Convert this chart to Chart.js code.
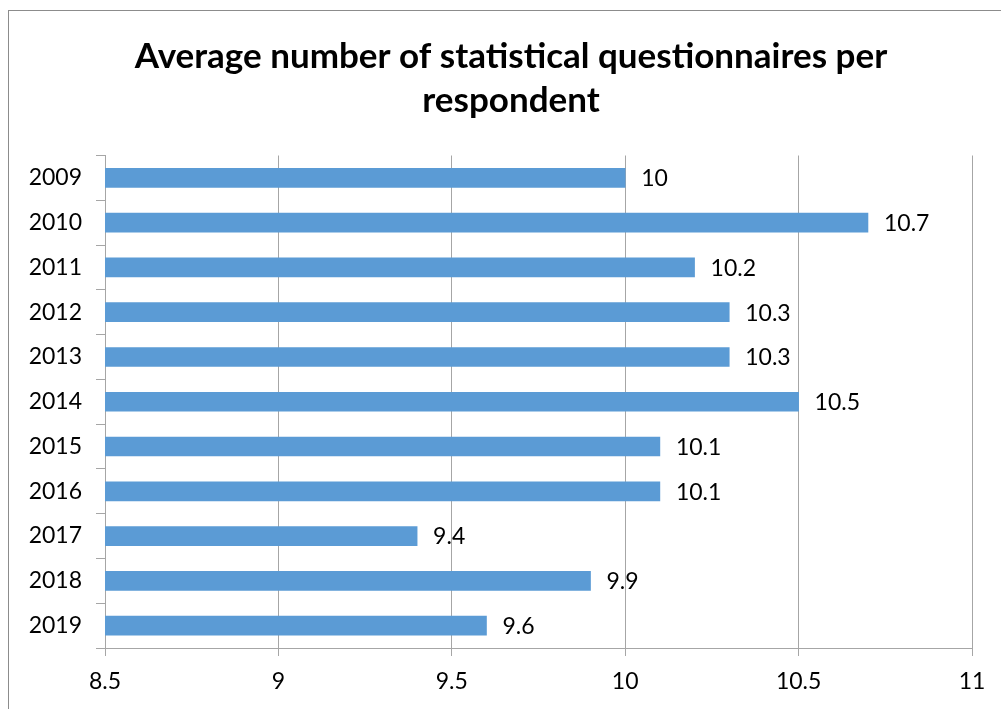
<!DOCTYPE html>
<html>
<head>
<meta charset="utf-8">
<script src="https://cdn.jsdelivr.net/npm/chart.js@4"></script>
<style>
  html, body { margin: 0; padding: 0; background: #fff; overflow: hidden; }
  #wrap { position: relative; width: 1001px; height: 709px; }
  #frame {
    position: absolute; left: 8px; top: 10px; width: 1100px; height: 800px;
    border: 1px solid #8c8c8c; box-sizing: border-box;
  }
  canvas { position: absolute; left: 0; top: 0; }
</style>
</head>
<body>
<div id="wrap">
  <div id="frame"></div>
  <canvas id="chart" width="1001" height="709"></canvas>
</div>
<script>
const years = ["2009", "2010", "2011", "2012", "2013", "2014", "2015", "2016", "2017", "2018", "2019"];
const questionnaires = [10, 10.7, 10.2, 10.3, 10.3, 10.5, 10.1, 10.1, 9.4, 9.9, 9.6];
const titleLines = ["Average number of statistical questionnaires per", "respondent"];
const axisMin = 8.5;
const axisMax = 11;
const axisStep = 0.5;

const FONT = "Lato, 'Open Sans', sans-serif";
const TITLE_SIZE = 35;
const TITLE_LINE = 1.25;

// value labels to the right of each bar
const valueLabels = {
  id: "valueLabels",
  afterDatasetsDraw(chart) {
    const ctx = chart.ctx;
    const meta = chart.getDatasetMeta(0);
    ctx.save();
    ctx.font = "23px " + FONT;
    ctx.fillStyle = "#000";
    ctx.textAlign = "left";
    ctx.textBaseline = "middle";
    meta.data.forEach((bar, i) => {
      ctx.fillText(String(questionnaires[i]), bar.x + 16, bar.y + 1);
    });
    ctx.restore();
  },
};

// the built-in title only reserves the space; text is centred on the frame here
const frameTitle = {
  id: "frameTitle",
  afterDraw(chart) {
    const ctx = chart.ctx;
    const block = chart.titleBlock;
    const lh = TITLE_SIZE * TITLE_LINE;
    ctx.save();
    ctx.font = "bold " + TITLE_SIZE + "px " + FONT;
    ctx.fillStyle = "#000";
    ctx.textAlign = "center";
    ctx.textBaseline = "middle";
    titleLines.forEach((line, i) => {
      ctx.fillText(line, 511, block.top + 35 + lh * (i + 0.5));
    });
    ctx.restore();
  },
};

new Chart(document.getElementById("chart"), {
  type: "bar",
  data: {
    labels: years,
    datasets: [
      {
        data: questionnaires,
        backgroundColor: "#5b9bd5",
        borderWidth: 0,
        barThickness: 19,
      },
    ],
  },
  options: {
    indexAxis: "y",
    responsive: false,
    animation: false,
    layout: { padding: { left: 0, right: 29, top: 0, bottom: 0 } },
    plugins: {
      legend: { display: false },
      tooltip: { enabled: false },
      title: {
        display: true,
        text: titleLines,
        color: "rgba(0,0,0,0)",
        font: { family: FONT, size: TITLE_SIZE, weight: "bold", lineHeight: TITLE_LINE },
        padding: { top: 35, bottom: 33 },
      },
    },
    scales: {
      x: {
        min: axisMin,
        max: axisMax,
        ticks: {
          stepSize: axisStep,
          color: "#000",
          font: { family: FONT, size: 23 },
          padding: 12,
          callback: (v) => String(v),
        },
        grid: { color: "#a6a6a6", lineWidth: 1, tickLength: 8 },
        border: { color: "#a6a6a6" },
        afterFit(scale) { scale.height = 61; },
      },
      y: {
        ticks: {
          color: "#000",
          font: { family: FONT, size: 23 },
          padding: 14,
        },
        grid: {
          drawOnChartArea: false,
          drawTicks: true,
          tickLength: 9,
          color: "#a6a6a6",
        },
        border: { color: "#a6a6a6" },
        afterFit(scale) { scale.width = 105; },
      },
    },
  },
  plugins: [valueLabels, frameTitle],
});
</script>
</body>
</html>
